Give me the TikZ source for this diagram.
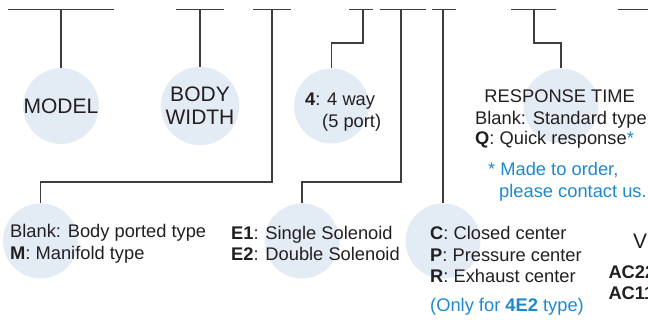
\documentclass[tikz,border=0pt]{standalone}
\usepackage{fontspec}
\setmainfont{Liberation Sans}
\definecolor{bubblefill}{RGB}{227,235,245}
\definecolor{leadgray}{RGB}{62,62,62}
\definecolor{textdark}{RGB}{35,31,32}
\definecolor{noteblue}{RGB}{29,137,206}
\newcommand{\bigtext}{\fontsize{21}{25}\selectfont}
\newcommand{\smalltext}{\fontsize{18.3}{21.5}\selectfont}

\begin{document}
\begin{tikzpicture}[x=1pt, y=-1pt,
                    bubble/.style={circle, fill=bubblefill, minimum size=75pt, inner sep=0pt,
                                   text=textdark, font=\bigtext, align=center},
                    bar/.style={draw=leadgray, line width=1.1pt},
                    lead/.style={draw=leadgray, line width=1.1pt},
                    entry/.style={anchor=base west, inner sep=0pt, text=textdark, font=\smalltext},
                    note/.style={entry, text=noteblue}]
    \useasboundingbox (0,0) rectangle (648,320);
    \clip (0,0) rectangle (648,320);

    % code bars along the top
    \coordinate (t1) at (61,9.5);
    \coordinate (t2) at (200,9.5);
    \coordinate (t3) at (272,9.5);
    \coordinate (t4) at (363,9.5);
    \coordinate (t5) at (401,9.5);
    \coordinate (t6) at (443,9.5);
    \coordinate (t7) at (534,9.5);
    \draw[bar] (8,9.5) -- (114,9.5);
    \draw[bar] (176,9.5) -- (224,9.5);
    \draw[bar] (253,9.5) -- (291,9.5);
    \draw[bar] (349,9.5) -- (373,9.5);
    \draw[bar] (380,9.5) -- (426,9.5);
    \draw[bar] (432,9.5) -- (456,9.5);
    \draw[bar] (511,9.5) -- (556,9.5);
    \draw[bar] (618,9.5) -- (660,9.5);

    % bubbles
    \node[bubble] (model)  at (61,106)    {MODEL};
    \node[bubble] (width)  at (200,106)   {BODY\\[-2pt]WIDTH};
    \node[bubble] (way)    at (331.5,106) {};
    \node[bubble] (resp)   at (561,106)   {};
    \node[bubble] (port)   at (40.5,241)  {};
    \node[bubble] (sol)    at (302,241)   {};
    \node[bubble] (center) at (443,241)   {};

    % leads
    \draw[lead] (t1) -- (model.north);
    \draw[lead] (t2) -- (width.north);
    \draw[lead] (t3) -- ++(0,172.5) -| (port.north);
    \draw[lead] (t4) -- ++(0,33.5) -| (way.north);
    \draw[lead] (t5) -- ++(0,172.5) -| (sol.north);
    \draw[lead] (t6) -- (center.north);
    \draw[lead] (t7) -- ++(0,33.5) -| (resp.north);

    % texts
    \node[entry] (way1) at (305,106)   {\textbf{4}: 4 way};
    \node[entry] (way2) at (322,128)   {(5 port)};

    \node[entry, anchor=base] (resptitle) at (559.7,102.7) {RESPONSE TIME};
    \node[entry] (std)   at (475,124.5) {Blank: Standard type};
    \node[entry] (quick) at (475,145)   {\textbf{Q}: Quick response\textcolor{noteblue}{*}};
    \node[note]  (note1) at (488,176)   {* Made to order,};
    \node[note]  (note2) at (499,197.5) {please contact us.};

    \node[entry] (blank) at (10,237.5)  {Blank: Body ported type};
    \node[entry] (manif) at (10,259.5)  {\textbf{M}: Manifold type};

    \node[entry] (single) at (231,240)  {\textbf{E1}: Single Solenoid};
    \node[entry] (double) at (231,261)  {\textbf{E2}: Double Solenoid};

    \node[entry] (closed)  at (430,240)   {\textbf{C}: Closed center};
    \node[entry] (press)   at (430,261.5) {\textbf{P}: Pressure center};
    \node[entry] (exhaust) at (430,282.5) {\textbf{R}: Exhaust center};
    \node[note]  (only)    at (430,312)   {(Only for \textbf{4E2} type)};

    \node[entry, font=\bigtext] (volt) at (633,249)   {V};
    \node[entry] (ac22) at (608.3,278.3) {\textbf{AC22}};
    \node[entry] (ac11) at (608.3,299.3) {\textbf{AC11}};
\end{tikzpicture}
\end{document}
